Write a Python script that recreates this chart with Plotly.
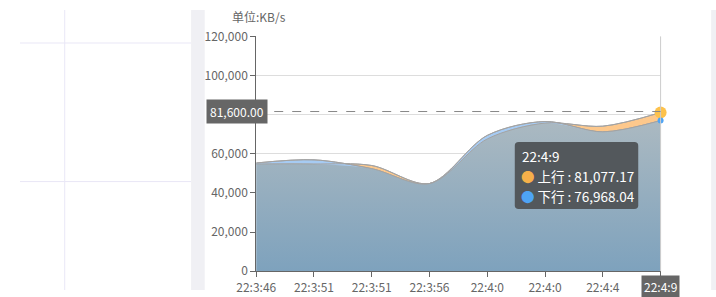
import plotly.graph_objects as go

# ---- data ----
time_labels = ["22:3:46", "22:3:51", "22:3:51", "22:3:56", "22:4:0", "22:4:0", "22:4:4", "22:4:9"]
upload = [54800, 54800, 54000, 44800, 67600, 75700, 74100, 81077.17]     # 上行
download = [55300, 56900, 52400, 44800, 69400, 76500, 71200, 76968.04]   # 下行
y_ticks = [0, 20000, 40000, 60000, 80000, 100000, 120000]
pointer_value = 81600.00
series_names = ["上行", "下行"]
unit_label = "单位:KB/s"

W, H = 716, 297
xs = list(range(len(time_labels)))
last = len(xs) - 1
overlap = [min(a, b) for a, b in zip(upload, download)]

def px(x):
    return x / W

def py(y):
    return 1 - y / H

FONT = "Noto Sans CJK SC"
fig = go.Figure()

ORANGE_FILL = "#fdc88c"
BLUE_FILL = "#a6cbf3"
LINE_C = "#a3a3a3"
SPL = dict(shape="spline", smoothing=0.9)

fig.add_trace(go.Scatter(x=xs, y=upload, mode="lines", line=dict(color=LINE_C, width=1, **SPL),
                         fill="tozeroy", fillcolor=ORANGE_FILL, hoverinfo="skip", showlegend=False))
fig.add_trace(go.Scatter(x=xs, y=download, mode="lines", line=dict(color=LINE_C, width=1, **SPL),
                         fill="tozeroy", fillcolor=BLUE_FILL, hoverinfo="skip", showlegend=False))
fig.add_trace(go.Scatter(x=xs, y=overlap, mode="lines", line=dict(color="rgba(0,0,0,0)", width=0, **SPL),
                         fill="tozeroy",
                         fillgradient=dict(type="vertical", colorscale=[[0, "#7ea2bd"], [1, "#abb9c1"]]),
                         hoverinfo="skip", showlegend=False))
fig.add_trace(go.Scatter(x=xs, y=upload, mode="lines", line=dict(color=LINE_C, width=1, **SPL),
                         hoverinfo="skip", showlegend=False))
fig.add_trace(go.Scatter(x=xs, y=download, mode="lines", line=dict(color=LINE_C, width=1, **SPL),
                         hoverinfo="skip", showlegend=False))

fig.add_trace(go.Scatter(x=[xs[last]], y=[upload[last]], mode="markers",
                         marker=dict(size=12, color="#fdc24c", line=dict(width=0)), cliponaxis=False,
                         hoverinfo="skip", showlegend=False))
fig.add_trace(go.Scatter(x=[xs[last]], y=[download[last]], mode="markers",
                         marker=dict(size=6, color="#4ea4f5", line=dict(width=0)), cliponaxis=False,
                         hoverinfo="skip", showlegend=False))

x0p, x1p = 243, 659
y0p, y1p = 277, 28

# tooltip box geometry (pixels)
tx0, tx1, ty0, ty1, r = 509, 636, 140, 211, 4
tip_path = (f"M {px(tx0 + r)} {py(ty0)} L {px(tx1 - r)} {py(ty0)} "
            f"Q {px(tx1)} {py(ty0)} {px(tx1)} {py(ty0 + r)} L {px(tx1)} {py(ty1 - r)} "
            f"Q {px(tx1)} {py(ty1)} {px(tx1 - r)} {py(ty1)} L {px(tx0 + r)} {py(ty1)} "
            f"Q {px(tx0)} {py(ty1)} {px(tx0)} {py(ty1 - r)} L {px(tx0)} {py(ty0 + r)} "
            f"Q {px(tx0)} {py(ty0)} {px(tx0 + r)} {py(ty0)} Z")

shapes = [
    dict(type="line", xref="paper", yref="paper", x0=0, x1=px(176), y0=py(35), y1=py(35),
         line=dict(color="#e9e7f6", width=1), layer="below"),
    dict(type="line", xref="paper", yref="paper", x0=0, x1=px(176), y0=py(182), y1=py(182),
         line=dict(color="#e9e7f6", width=1), layer="below"),
    dict(type="line", xref="paper", yref="paper", x0=px(46), x1=px(46), y0=0, y1=1,
         line=dict(color="#e9e7f6", width=1), layer="below"),
    dict(type="rect", xref="paper", yref="paper", x0=px(176), x1=px(190), y0=0, y1=1,
         fillcolor="#f0f0f4", line=dict(width=0), layer="below"),
    dict(type="rect", xref="paper", yref="paper", x0=px(711), x1=1, y0=0, y1=1,
         fillcolor="#f0f0f4", line=dict(width=0), layer="below"),
    dict(type="line", xref="paper", yref="paper", x0=px(659), x1=px(659), y0=py(277), y1=py(28),
         line=dict(color="#cccccc", width=1), layer="above"),
    dict(type="line", xref="paper", yref="y", x0=px(x0p), x1=px(x1p), y0=pointer_value, y1=pointer_value,
         line=dict(color="#888888", width=1, dash="dash"), layer="above"),
    dict(type="path", xref="paper", yref="paper", path=tip_path, fillcolor="#53585c",
         line=dict(width=0), layer="above"),
]

annotations = [
    dict(text=unit_label, xref="paper", yref="paper", x=px(216), y=py(7), xanchor="left", yanchor="middle",
         showarrow=False, font=dict(size=12, color="#666666", family=FONT)),
    dict(text=f"{pointer_value:,.2f}", xref="paper", yref="y", x=px(191), y=pointer_value,
         xanchor="left", yanchor="middle", showarrow=False, bgcolor="#666666", borderpad=3,
         font=dict(size=12, color="#ffffff", family=FONT)),
    dict(text=time_labels[last], xref="x", yref="paper", x=xs[last], y=py(281), xanchor="center", yanchor="top",
         showarrow=False, bgcolor="#666666", borderpad=2,
         font=dict(size=12, color="#ffffff", family=FONT)),
    dict(text=time_labels[last], xref="paper", yref="paper", x=px(514), y=py(155), xanchor="left",
         yanchor="middle", showarrow=False, font=dict(size=13.5, color="#ffffff", family=FONT)),
    dict(text=(f"<span style='color:#f5b04a'>●</span> {series_names[0]} : {upload[last]:,.2f}"),
         xref="paper", yref="paper", x=px(513), y=py(176), xanchor="left", yanchor="middle",
         showarrow=False, font=dict(size=13.5, color="#ffffff", family=FONT)),
    dict(text=(f"<span style='color:#4ea4f5'>●</span> {series_names[1]} : {download[last]:,.2f}"),
         xref="paper", yref="paper", x=px(513), y=py(197), xanchor="left", yanchor="middle",
         showarrow=False, font=dict(size=13.5, color="#ffffff", family=FONT)),
]

# tick labels hidden where the axis-pointer boxes cover them
x_ticktext = [t if i != last else "" for i, t in enumerate(time_labels)]
y_ticktext = [f"{v:,d}" if v != 80000 else "" for v in y_ticks]

fig.update_layout(
    width=W, height=H,
    margin=dict(l=0, r=0, t=0, b=0),
    paper_bgcolor="#ffffff", plot_bgcolor="rgba(0,0,0,0)",
    font=dict(family=FONT, size=12, color="#666666"),
    shapes=shapes, annotations=annotations,
    xaxis=dict(domain=[px(x0p), px(x1p)], range=[0, len(xs) - 1], tickvals=xs, ticktext=x_ticktext,
               showgrid=False, zeroline=False, showline=True, linecolor="#666666", linewidth=1,
               ticks="outside", ticklen=5, tickcolor="#666666", tickfont=dict(size=12, color="#666666")),
    yaxis=dict(domain=[py(y0p), py(y1p)], range=[0, 120000], tickvals=y_ticks, ticktext=y_ticktext,
               showgrid=True, gridcolor="#dddddd", gridwidth=1, zeroline=False,
               showline=True, linecolor="#666666", linewidth=1,
               ticks="outside", ticklen=5, tickcolor="#666666", tickfont=dict(size=12, color="#666666")),
)

fig.write_html("out.html")
